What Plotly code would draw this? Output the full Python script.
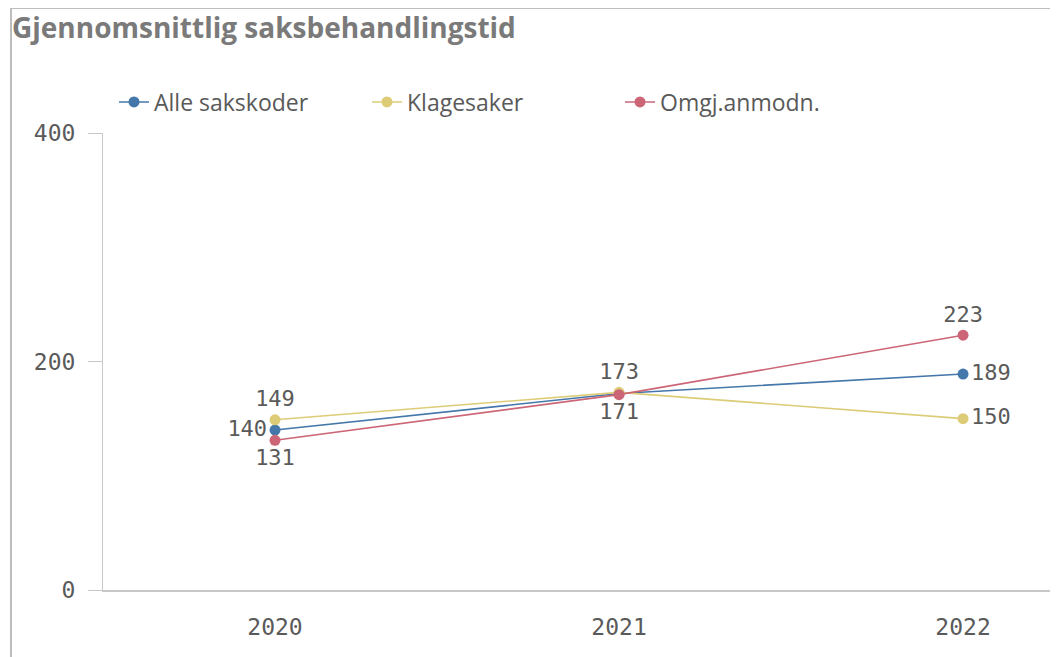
import plotly.graph_objects as go

years = ["2020", "2021", "2022"]
alle = [140, 172, 189]
klage = [149, 173, 150]
omgj = [131, 171, 223]

alle_pos = ["middle left", "top center", "middle right"]
klage_pos = ["top center", "top center", "middle right"]
omgj_pos = ["bottom center", "bottom center", "top center"]
alle_txt = ["140", "", "189"]
klage_txt = ["149", "173", "150"]
omgj_txt = ["131", "171", "223"]

series = [
    ("Alle sakskoder", alle, alle_txt, alle_pos, "#4477aa"),
    ("Klagesaker", klage, klage_txt, klage_pos, "#ddcc77"),
    ("Omgj.anmodn.", omgj, omgj_txt, omgj_pos, "#cc6677"),
]

mono = "DejaVu Sans Mono"
# page body has an 8px margin, so the figure is 8px smaller and sits at (8, 8)
W, H = 1050, 649
L, R, T, B = 95, 0, 125, 67
PW, PH = W - L - R, H - T - B

fig = go.Figure()
for name, vals, txt, pos, col in series:
    fig.add_trace(go.Scatter(
        x=years, y=vals, name=name, mode="lines+markers+text",
        text=txt, textposition=pos,
        textfont=dict(family=mono, size=22, color="#5a5a5a"),
        line=dict(color=col, width=1.6),
        marker=dict(color=col, size=11),
        cliponaxis=False,
    ))

fig.update_layout(
    width=W, height=H,
    paper_bgcolor="white", plot_bgcolor="white",
    margin=dict(l=L, r=R, t=T, b=B),
    title=dict(text="<b>Gjennomsnittlig saksbehandlingstid</b>",
               x=4 / W, xanchor="left", y=1 - 20 / H, yanchor="middle",
               font=dict(family="Open Sans", size=28, color="#7a7a7a")),
    legend=dict(orientation="h", x=11 / PW, xanchor="left",
                y=1 + 31 / PH, yanchor="middle",
                font=dict(family="Open Sans", size=23, color="#595959"),
                entrywidth=208, entrywidthmode="pixels",
                itemclick=False, traceorder="normal"),
    showlegend=True,
)
fig.update_xaxes(
    type="category", range=[-0.5, 2.276],
    showgrid=False, zeroline=False,
    showline=True, linecolor="#c8c8c8", linewidth=1.5,
    ticks="", tickfont=dict(family=mono, size=23, color="#5a5a5a"),
    ticklabelstandoff=16,
)
fig.update_yaxes(
    range=[0, 400], tickvals=[0, 200, 400],
    showgrid=False, zeroline=False,
    showline=True, linecolor="#c8c8c8", linewidth=1,
    ticks="outside", ticklen=14, tickcolor="#c8c8c8", tickwidth=1,
    ticklabelstandoff=8,
    tickfont=dict(family=mono, size=23, color="#5a5a5a"),
)
# outer frame (left and top border)
fx = (3 - L) / PW
fy = 1 + (T - 0) / PH
fig.add_shape(type="line", xref="paper", yref="paper",
              x0=fx, x1=fx, y0=-B / PH, y1=fy,
              line=dict(color="#bdbdbd", width=2))
fig.add_shape(type="line", xref="paper", yref="paper",
              x0=fx, x1=1, y0=fy, y1=fy,
              line=dict(color="#bdbdbd", width=2))

fig.write_html("out.html")
